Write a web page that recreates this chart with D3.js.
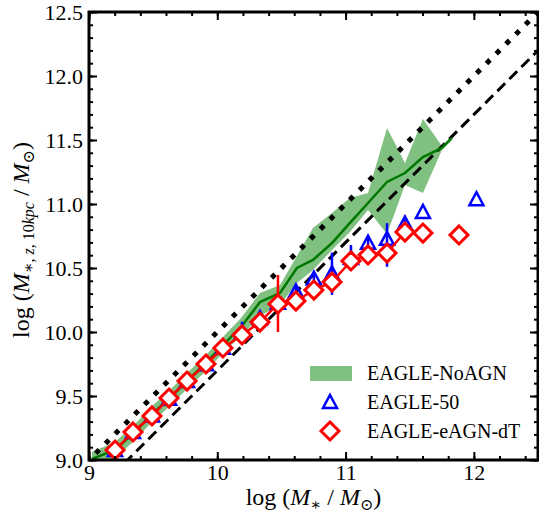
<!DOCTYPE html>
<html>
<head>
<meta charset="utf-8">
<script src="https://cdn.jsdelivr.net/npm/d3@7"></script>
<style>
html,body{margin:0;padding:0;background:#fff;}
svg{display:block;}
text{font-family:"Liberation Serif","DejaVu Serif",serif;fill:#000;}
</style>
</head>
<body>
<svg id="chart" width="539" height="517"></svg>
<script>
// ---------- data ----------
const xTicks = [9, 10, 11, 12];
const yTicks = [9.0, 9.5, 10.0, 10.5, 11.0, 11.5, 12.0, 12.5];

// EAGLE-NoAGN median and band
const noagnX  = [9.023, 9.203, 9.359, 9.483, 9.631, 9.772, 9.912, 10.044, 10.185, 10.333, 10.489, 10.621, 10.746, 10.894, 11.034, 11.175, 11.323, 11.463, 11.603, 11.751, 11.829];
const noagnY  = [9.008, 9.078, 9.219, 9.352, 9.484, 9.625, 9.758, 9.898, 10.039, 10.234, 10.305, 10.500, 10.563, 10.695, 10.852, 11.008, 11.172, 11.242, 11.367, 11.438, 11.516];
const noagnLo = [8.953, 9.016, 9.156, 9.289, 9.422, 9.563, 9.695, 9.836, 9.969, 10.125, 10.211, 10.383, 10.484, 10.641, 10.781, 10.953, 10.766, 11.148, 11.086, 11.422, 11.500];
const noagnHi = [9.063, 9.141, 9.281, 9.414, 9.547, 9.688, 9.820, 9.961, 10.109, 10.305, 10.367, 10.594, 10.813, 10.930, 11.047, 11.086, 11.594, 11.320, 11.664, 11.453, 11.531];

// EAGLE-50 (blue triangles)
const e50X  = [9.203, 9.343, 9.491, 9.624, 9.764, 9.912, 10.044, 10.193, 10.333, 10.473, 10.613, 10.753, 10.894, 11.042, 11.175, 11.323, 11.463, 11.603, 12.02];
const e50Y  = [9.07, 9.21, 9.34, 9.47, 9.61, 9.74, 9.87, 9.99, 10.10, 10.22, 10.31, 10.41, 10.45, 10.57, 10.69, 10.72, 10.84, 10.93, 11.03];
const e50Lo = [9.05, 9.19, 9.32, 9.45, 9.59, 9.72, 9.85, 9.95, 10.06, 10.18, 10.27, 10.37, 10.29, 10.48, 10.58, 10.51, 10.80, 10.93, 11.03];
const e50Hi = [9.09, 9.23, 9.36, 9.49, 9.63, 9.76, 9.89, 10.08, 10.14, 10.26, 10.35, 10.45, 10.62, 10.68, 10.74, 10.85, 10.88, 10.93, 11.03];

// EAGLE-eAGN-dT (red diamonds)
const eagnX  = [9.203, 9.343, 9.491, 9.624, 9.764, 9.912, 10.044, 10.193, 10.333, 10.473, 10.613, 10.753, 10.894, 11.042, 11.175, 11.323, 11.463, 11.603, 11.884];
const eagnY  = [9.078, 9.219, 9.344, 9.484, 9.617, 9.750, 9.875, 9.977, 10.078, 10.219, 10.242, 10.328, 10.390, 10.555, 10.602, 10.617, 10.781, 10.773, 10.758];
const eagnLo = [9.078, 9.219, 9.344, 9.484, 9.617, 9.750, 9.875, 9.977, 10.078, 10.000, 10.242, 10.328, 10.390, 10.555, 10.602, 10.617, 10.781, 10.773, 10.758];
const eagnHi = [9.078, 9.219, 9.344, 9.484, 9.617, 9.750, 9.875, 9.977, 10.078, 10.445, 10.242, 10.328, 10.390, 10.555, 10.602, 10.617, 10.781, 10.773, 10.758];
const eagnLineN = 18; // number of points joined by the line

// reference lines: y = x + offset
const refOffsets = [0, -0.301];

const legendLabels = ["EAGLE-NoAGN", "EAGLE-50", "EAGLE-eAGN-dT"];

// ---------- chart ----------
const svg = d3.select("#chart");
const L = 89, R = 538, T = 12, B = 460;
const x = d3.scaleLinear().domain([9, 12.5]).range([L, R]);
const y = d3.scaleLinear().domain([9, 12.5]).range([B, T]);

svg.append("defs").append("clipPath").attr("id", "clip")
  .append("rect").attr("x", L).attr("y", T).attr("width", R - L).attr("height", B - T);

const plot = svg.append("g").attr("clip-path", "url(#clip)");

// band
const band = noagnX.map((v, i) => ({x: v, lo: noagnLo[i], hi: noagnHi[i]}));
plot.append("path").datum(band)
  .attr("d", d3.area().x(d => x(d.x)).y0(d => y(d.lo)).y1(d => y(d.hi)))
  .attr("fill", "#80c080").attr("stroke", "none");

// reference lines
const refLine = d3.line().x(d => x(d[0])).y(d => y(d[1]));
plot.append("path").datum([[8.9, 8.9 + refOffsets[0]], [12.6, 12.6 + refOffsets[0]]])
  .attr("d", refLine).attr("fill", "none").attr("stroke", "#000")
  .attr("stroke-width", 5).attr("stroke-dasharray", "5,8.8");
plot.append("path").datum([[8.9, 8.9 + refOffsets[1]], [12.9, 12.9 + refOffsets[1]]])
  .attr("d", refLine).attr("fill", "none").attr("stroke", "#000")
  .attr("stroke-width", 3).attr("stroke-dasharray", "11,6");

// median line
plot.append("path").datum(noagnX.map((v, i) => [v, noagnY[i]]))
  .attr("d", refLine).attr("fill", "none").attr("stroke", "#007800").attr("stroke-width", 2.5);

// blue errorbars & triangles
const triPath = "M0,-8 L7,5 L-7,5 Z";
const e50 = e50X.map((v, i) => ({x: v, y: e50Y[i], lo: e50Lo[i], hi: e50Hi[i]}));
plot.selectAll(".e50err").data(e50).enter().append("line")
  .attr("x1", d => x(d.x)).attr("x2", d => x(d.x))
  .attr("y1", d => y(d.lo)).attr("y2", d => y(d.hi))
  .attr("stroke", "#0000ff").attr("stroke-width", 2.5);
plot.selectAll(".e50pt").data(e50).enter().append("path")
  .attr("d", triPath).attr("transform", d => `translate(${x(d.x)},${y(d.y)})`)
  .attr("fill", "none").attr("stroke", "#0000ff").attr("stroke-width", 2.5);

// red line, errorbars, diamonds
const eagn = eagnX.map((v, i) => ({x: v, y: eagnY[i], lo: eagnLo[i], hi: eagnHi[i]}));
plot.append("path").datum(eagn.slice(0, eagnLineN))
  .attr("d", d3.line().x(d => x(d.x)).y(d => y(d.y)))
  .attr("fill", "none").attr("stroke", "#ff0000").attr("stroke-width", 2.5);
plot.selectAll(".eagnerr").data(eagn).enter().append("line")
  .attr("x1", d => x(d.x)).attr("x2", d => x(d.x))
  .attr("y1", d => y(d.lo)).attr("y2", d => y(d.hi))
  .attr("stroke", "#ff0000").attr("stroke-width", 2.5);
const diaPath = "M0,-9 L9,0 L0,9 L-9,0 Z";
plot.selectAll(".eagnpt").data(eagn).enter().append("path")
  .attr("d", diaPath).attr("transform", d => `translate(${x(d.x)},${y(d.y)})`)
  .attr("fill", "#fff").attr("stroke", "#ff0000").attr("stroke-width", 3);

// ---------- axes ----------
const xMinor = d3.range(9, 12.51, 0.2).map(v => +v.toFixed(2));
const yMinor = d3.range(9, 12.51, 0.1).map(v => +v.toFixed(2));

function styleAxis(g) {
  g.select(".domain").remove();
  g.selectAll(".tick line").attr("stroke", "#000").attr("stroke-width", 2);
}
// minor
svg.append("g").attr("transform", `translate(0,${B})`)
  .call(d3.axisBottom(x).tickValues(xMinor).tickSize(-4).tickFormat("")).call(styleAxis);
svg.append("g").attr("transform", `translate(0,${T})`)
  .call(d3.axisTop(x).tickValues(xMinor).tickSize(-4).tickFormat("")).call(styleAxis);
svg.append("g").attr("transform", `translate(${L},0)`)
  .call(d3.axisLeft(y).tickValues(yMinor).tickSize(-4).tickFormat("")).call(styleAxis);
svg.append("g").attr("transform", `translate(${R},0)`)
  .call(d3.axisRight(y).tickValues(yMinor).tickSize(-4).tickFormat("")).call(styleAxis);
// major
const xb = svg.append("g").attr("transform", `translate(0,${B})`)
  .call(d3.axisBottom(x).tickValues(xTicks).tickSize(-8).tickPadding(4).tickFormat(d3.format("d"))).call(styleAxis);
xb.selectAll("text").attr("font-size", 22).attr("dy", "0.71em").attr("fill", "#000")
  .style("font-family", "'Liberation Serif', serif");
svg.append("g").attr("transform", `translate(0,${T})`)
  .call(d3.axisTop(x).tickValues(xTicks).tickSize(-8).tickFormat("")).call(styleAxis);
const yl = svg.append("g").attr("transform", `translate(${L},0)`)
  .call(d3.axisLeft(y).tickValues(yTicks).tickSize(-8).tickPadding(6).tickFormat(d3.format(".1f"))).call(styleAxis);
yl.selectAll("text").attr("font-size", 22).attr("fill", "#000")
  .style("font-family", "'Liberation Serif', serif");
svg.append("g").attr("transform", `translate(${R},0)`)
  .call(d3.axisRight(y).tickValues(yTicks).tickSize(-8).tickFormat("")).call(styleAxis);

// frame
svg.append("rect").attr("x", L).attr("y", T).attr("width", R - L).attr("height", B - T)
  .attr("fill", "none").attr("stroke", "#000").attr("stroke-width", 3);

// ---------- axis labels ----------
const xl = svg.append("text").attr("x", (L + R) / 2).attr("y", 505)
  .attr("text-anchor", "middle").attr("font-size", 24);
xl.append("tspan").text("log (");
xl.append("tspan").attr("font-style", "italic").text("M");
xl.append("tspan").attr("font-size", 16).attr("dy", 5).text("∗");
xl.append("tspan").attr("dy", -5).text(" / ");
xl.append("tspan").attr("font-style", "italic").text("M");
xl.append("tspan").attr("font-size", 16).attr("dy", 5).text("⊙");
xl.append("tspan").attr("dy", -5).text(")");

const ylab = svg.append("text").attr("transform", `translate(29,${(T + B) / 2 + 4}) rotate(-90)`)
  .attr("text-anchor", "middle").attr("font-size", 24);
ylab.append("tspan").text("log (");
ylab.append("tspan").attr("font-style", "italic").text("M");
ylab.append("tspan").attr("font-size", 16).attr("dy", 5).text("∗, ");
ylab.append("tspan").attr("font-size", 16).attr("font-style", "italic").text("z");
ylab.append("tspan").attr("font-size", 16).text(", 10");
ylab.append("tspan").attr("font-size", 16).attr("font-style", "italic").text("kpc");
ylab.append("tspan").attr("dy", -5).text(" / ");
ylab.append("tspan").attr("font-style", "italic").text("M");
ylab.append("tspan").attr("font-size", 16).attr("dy", 5).text("⊙");
ylab.append("tspan").attr("dy", -5).text(")");

// ---------- legend ----------
const lg = svg.append("g");
lg.append("rect").attr("x", 310).attr("y", 366).attr("width", 42).attr("height", 15).attr("fill", "#80c080");
lg.append("path").attr("d", triPath).attr("transform", "translate(330,403)")
  .attr("fill", "none").attr("stroke", "#0000ff").attr("stroke-width", 2.5);
lg.append("path").attr("d", diaPath).attr("transform", "translate(330,431)")
  .attr("fill", "#fff").attr("stroke", "#ff0000").attr("stroke-width", 3);
const lgY = [380, 409, 438];
legendLabels.forEach((t, i) => {
  lg.append("text").attr("x", 367).attr("y", lgY[i]).attr("font-size", 20).text(t);
});
</script>
</body>
</html>
